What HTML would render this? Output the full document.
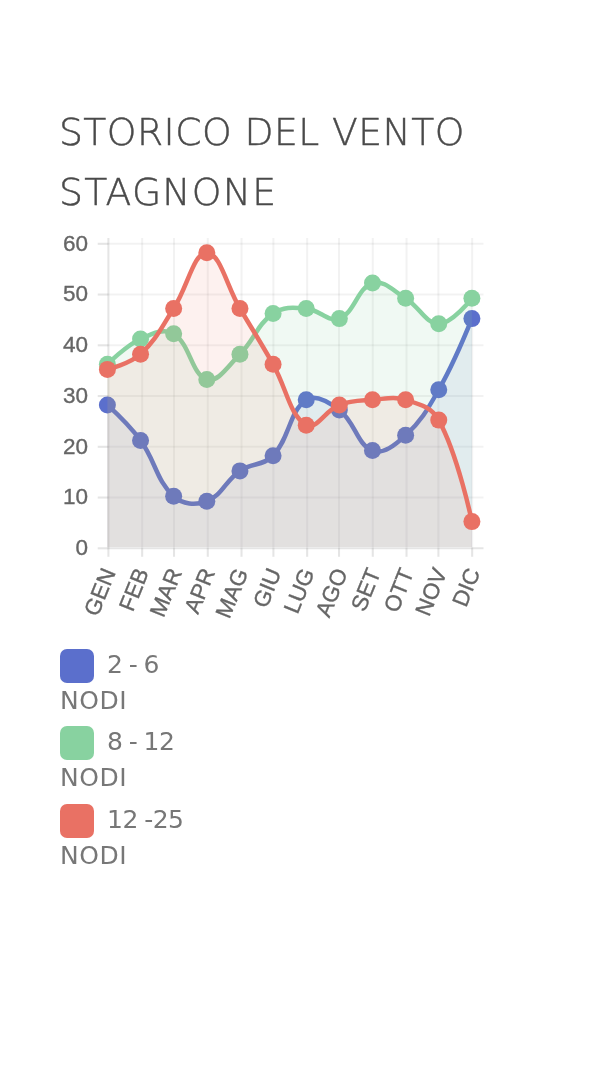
<!DOCTYPE html>
<html lang="it"><head><meta charset="utf-8"><title>Storico del vento</title>
<style>
html,body{margin:0;padding:0;background:#fff;}
body{width:600px;height:1067px;position:relative;overflow:hidden;font-family:"DejaVu Sans","Liberation Sans",sans-serif;}
.ttl{position:absolute;left:59px;white-space:nowrap;font-family:"DejaVu Sans Light","DejaVu Sans","Liberation Sans",sans-serif;font-weight:200;font-size:37.7px;line-height:44px;color:#4a4a4a;letter-spacing:0.45px;margin:0;-webkit-text-stroke:0.45px #4a4a4a}
h1{margin:0;padding:0;font-size:0;line-height:0}
.ttl{display:block}
.ax{font-family:"Liberation Sans",sans-serif;font-size:22.5px;fill:#666;stroke:#666;stroke-width:0.35px}
.sw{position:absolute;left:60px;width:34px;height:34px;border-radius:7px}
.lg{position:absolute;white-space:nowrap;font-family:"DejaVu Sans","Liberation Sans",sans-serif;font-size:25px;line-height:30px;color:#777}
.num{left:107px;letter-spacing:-0.5px;word-spacing:-1.1px}
.nodi{left:60.1px;letter-spacing:0.55px}
</style></head><body>
<h1><span class="ttl" style="top:110px">STORICO DEL VENTO</span> <span class="ttl" style="top:170px;letter-spacing:1.25px">STAGNONE</span></h1>
<svg width="600" height="1067" viewBox="0 0 600 1067" style="position:absolute;left:0;top:0">
<line x1="108.40" y1="548.30" x2="483.50" y2="548.30" stroke="rgba(0,0,0,0.10)" stroke-width="2.1"/>
<line x1="97.70" y1="548.30" x2="108.40" y2="548.30" stroke="rgba(0,0,0,0.10)" stroke-width="2.1"/>
<line x1="108.40" y1="497.55" x2="483.50" y2="497.55" stroke="rgba(0,0,0,0.05)" stroke-width="2.1"/>
<line x1="97.70" y1="497.55" x2="108.40" y2="497.55" stroke="rgba(0,0,0,0.10)" stroke-width="2.1"/>
<line x1="108.40" y1="446.80" x2="483.50" y2="446.80" stroke="rgba(0,0,0,0.05)" stroke-width="2.1"/>
<line x1="97.70" y1="446.80" x2="108.40" y2="446.80" stroke="rgba(0,0,0,0.10)" stroke-width="2.1"/>
<line x1="108.40" y1="396.05" x2="483.50" y2="396.05" stroke="rgba(0,0,0,0.05)" stroke-width="2.1"/>
<line x1="97.70" y1="396.05" x2="108.40" y2="396.05" stroke="rgba(0,0,0,0.10)" stroke-width="2.1"/>
<line x1="108.40" y1="345.30" x2="483.50" y2="345.30" stroke="rgba(0,0,0,0.05)" stroke-width="2.1"/>
<line x1="97.70" y1="345.30" x2="108.40" y2="345.30" stroke="rgba(0,0,0,0.10)" stroke-width="2.1"/>
<line x1="108.40" y1="294.55" x2="483.50" y2="294.55" stroke="rgba(0,0,0,0.05)" stroke-width="2.1"/>
<line x1="97.70" y1="294.55" x2="108.40" y2="294.55" stroke="rgba(0,0,0,0.10)" stroke-width="2.1"/>
<line x1="108.40" y1="243.80" x2="483.50" y2="243.80" stroke="rgba(0,0,0,0.05)" stroke-width="2.1"/>
<line x1="97.70" y1="243.80" x2="108.40" y2="243.80" stroke="rgba(0,0,0,0.10)" stroke-width="2.1"/>
<line x1="108.40" y1="238.00" x2="108.40" y2="548.30" stroke="rgba(0,0,0,0.10)" stroke-width="2.1"/>
<line x1="108.40" y1="548.30" x2="108.40" y2="556.80" stroke="rgba(0,0,0,0.10)" stroke-width="2.1"/>
<line x1="142.15" y1="238.00" x2="142.15" y2="548.30" stroke="rgba(0,0,0,0.05)" stroke-width="2.1"/>
<line x1="142.15" y1="548.30" x2="142.15" y2="556.80" stroke="rgba(0,0,0,0.10)" stroke-width="2.1"/>
<line x1="174.02" y1="238.00" x2="174.02" y2="548.30" stroke="rgba(0,0,0,0.05)" stroke-width="2.1"/>
<line x1="174.02" y1="548.30" x2="174.02" y2="556.80" stroke="rgba(0,0,0,0.10)" stroke-width="2.1"/>
<line x1="207.77" y1="238.00" x2="207.77" y2="548.30" stroke="rgba(0,0,0,0.05)" stroke-width="2.1"/>
<line x1="207.77" y1="548.30" x2="207.77" y2="556.80" stroke="rgba(0,0,0,0.10)" stroke-width="2.1"/>
<line x1="241.52" y1="238.00" x2="241.52" y2="548.30" stroke="rgba(0,0,0,0.05)" stroke-width="2.1"/>
<line x1="241.52" y1="548.30" x2="241.52" y2="556.80" stroke="rgba(0,0,0,0.10)" stroke-width="2.1"/>
<line x1="273.40" y1="238.00" x2="273.40" y2="548.30" stroke="rgba(0,0,0,0.05)" stroke-width="2.1"/>
<line x1="273.40" y1="548.30" x2="273.40" y2="556.80" stroke="rgba(0,0,0,0.10)" stroke-width="2.1"/>
<line x1="307.15" y1="238.00" x2="307.15" y2="548.30" stroke="rgba(0,0,0,0.05)" stroke-width="2.1"/>
<line x1="307.15" y1="548.30" x2="307.15" y2="556.80" stroke="rgba(0,0,0,0.10)" stroke-width="2.1"/>
<line x1="339.02" y1="238.00" x2="339.02" y2="548.30" stroke="rgba(0,0,0,0.05)" stroke-width="2.1"/>
<line x1="339.02" y1="548.30" x2="339.02" y2="556.80" stroke="rgba(0,0,0,0.10)" stroke-width="2.1"/>
<line x1="372.77" y1="238.00" x2="372.77" y2="548.30" stroke="rgba(0,0,0,0.05)" stroke-width="2.1"/>
<line x1="372.77" y1="548.30" x2="372.77" y2="556.80" stroke="rgba(0,0,0,0.10)" stroke-width="2.1"/>
<line x1="406.52" y1="238.00" x2="406.52" y2="548.30" stroke="rgba(0,0,0,0.05)" stroke-width="2.1"/>
<line x1="406.52" y1="548.30" x2="406.52" y2="556.80" stroke="rgba(0,0,0,0.10)" stroke-width="2.1"/>
<line x1="438.40" y1="238.00" x2="438.40" y2="548.30" stroke="rgba(0,0,0,0.05)" stroke-width="2.1"/>
<line x1="438.40" y1="548.30" x2="438.40" y2="556.80" stroke="rgba(0,0,0,0.10)" stroke-width="2.1"/>
<line x1="472.15" y1="238.00" x2="472.15" y2="548.30" stroke="rgba(0,0,0,0.05)" stroke-width="2.1"/>
<line x1="472.15" y1="548.30" x2="472.15" y2="556.80" stroke="rgba(0,0,0,0.10)" stroke-width="2.1"/>
<text x="88" y="548.30" text-anchor="end" class="ax" dy="0.3em">0</text>
<text x="88" y="497.55" text-anchor="end" class="ax" dy="0.3em">10</text>
<text x="88" y="446.80" text-anchor="end" class="ax" dy="0.3em">20</text>
<text x="88" y="396.05" text-anchor="end" class="ax" dy="0.3em">30</text>
<text x="88" y="345.30" text-anchor="end" class="ax" dy="0.3em">40</text>
<text x="88" y="294.55" text-anchor="end" class="ax" dy="0.3em">50</text>
<text x="88" y="243.80" text-anchor="end" class="ax" dy="0.3em">60</text>
<text transform="translate(108.60 569.20) rotate(-68)" text-anchor="end" class="ax" dy="0.355em">GEN</text>
<text transform="translate(141.74 569.20) rotate(-68)" text-anchor="end" class="ax" dy="0.355em">FEB</text>
<text transform="translate(174.87 569.20) rotate(-68)" text-anchor="end" class="ax" dy="0.355em">MAR</text>
<text transform="translate(208.01 569.20) rotate(-68)" text-anchor="end" class="ax" dy="0.355em">APR</text>
<text transform="translate(241.15 569.20) rotate(-68)" text-anchor="end" class="ax" dy="0.355em">MAG</text>
<text transform="translate(274.28 569.20) rotate(-68)" text-anchor="end" class="ax" dy="0.355em">GIU</text>
<text transform="translate(307.42 569.20) rotate(-68)" text-anchor="end" class="ax" dy="0.355em">LUG</text>
<text transform="translate(340.55 569.20) rotate(-68)" text-anchor="end" class="ax" dy="0.355em">AGO</text>
<text transform="translate(373.69 569.20) rotate(-68)" text-anchor="end" class="ax" dy="0.355em">SET</text>
<text transform="translate(406.83 569.20) rotate(-68)" text-anchor="end" class="ax" dy="0.355em">OTT</text>
<text transform="translate(439.96 569.20) rotate(-68)" text-anchor="end" class="ax" dy="0.355em">NOV</text>
<text transform="translate(473.10 569.20) rotate(-68)" text-anchor="end" class="ax" dy="0.355em">DIC</text>
<path d="M107.40 404.90 C107.40 404.90 129.19 424.79 140.54 440.43 C155.70 461.33 156.19 480.19 173.67 496.25 C182.70 504.55 195.49 505.66 206.81 501.32 C222.00 495.51 225.30 480.97 239.95 470.88 C251.81 462.70 263.55 465.87 273.08 455.65 C290.06 437.45 288.94 411.74 306.22 399.83 C315.44 393.47 328.80 401.89 339.35 409.98 C355.31 422.19 356.86 444.59 372.49 450.58 C383.37 454.74 395.22 444.91 405.63 435.35 C421.73 420.55 427.67 409.22 438.76 389.68 C454.18 362.53 471.90 318.62 471.90 318.62 L471.90 547.00 L107.40 547.00 Z" fill="rgba(91,111,204,0.10)" stroke="none"/>
<path d="M107.40 404.90 C107.40 404.90 129.19 424.79 140.54 440.43 C155.70 461.33 156.19 480.19 173.67 496.25 C182.70 504.55 195.49 505.66 206.81 501.32 C222.00 495.51 225.30 480.97 239.95 470.88 C251.81 462.70 263.55 465.87 273.08 455.65 C290.06 437.45 288.94 411.74 306.22 399.83 C315.44 393.47 328.80 401.89 339.35 409.98 C355.31 422.19 356.86 444.59 372.49 450.58 C383.37 454.74 395.22 444.91 405.63 435.35 C421.73 420.55 427.67 409.22 438.76 389.68 C454.18 362.53 471.90 318.62 471.90 318.62" fill="none" stroke="#5b6fcc" stroke-width="4.5" stroke-linejoin="round"/>
<circle cx="107.40" cy="404.90" r="8.5" fill="#5b6fcc"/>
<circle cx="140.54" cy="440.43" r="8.5" fill="#5b6fcc"/>
<circle cx="173.67" cy="496.25" r="8.5" fill="#5b6fcc"/>
<circle cx="206.81" cy="501.32" r="8.5" fill="#5b6fcc"/>
<circle cx="239.95" cy="470.88" r="8.5" fill="#5b6fcc"/>
<circle cx="273.08" cy="455.65" r="8.5" fill="#5b6fcc"/>
<circle cx="306.22" cy="399.83" r="8.5" fill="#5b6fcc"/>
<circle cx="339.35" cy="409.98" r="8.5" fill="#5b6fcc"/>
<circle cx="372.49" cy="450.58" r="8.5" fill="#5b6fcc"/>
<circle cx="405.63" cy="435.35" r="8.5" fill="#5b6fcc"/>
<circle cx="438.76" cy="389.68" r="8.5" fill="#5b6fcc"/>
<circle cx="471.90" cy="318.62" r="8.5" fill="#5b6fcc"/>
<path d="M107.40 364.30 C107.40 364.30 125.84 345.68 140.54 338.93 C152.34 333.50 163.79 327.80 173.67 333.85 C190.30 344.04 191.57 374.86 206.81 379.53 C218.08 382.98 228.19 365.85 239.95 354.15 C254.70 339.46 256.91 324.69 273.08 313.55 C283.42 306.42 293.18 307.48 306.22 308.48 C319.69 309.51 328.32 322.85 339.35 318.62 C354.83 312.70 357.35 287.74 372.49 283.10 C383.86 279.62 393.27 290.75 405.63 298.33 C419.77 306.99 425.51 323.70 438.76 323.70 C452.02 323.70 471.90 298.33 471.90 298.33 L471.90 547.00 L107.40 547.00 Z" fill="rgba(136,210,160,0.125)" stroke="none"/>
<path d="M107.40 364.30 C107.40 364.30 125.84 345.68 140.54 338.93 C152.34 333.50 163.79 327.80 173.67 333.85 C190.30 344.04 191.57 374.86 206.81 379.53 C218.08 382.98 228.19 365.85 239.95 354.15 C254.70 339.46 256.91 324.69 273.08 313.55 C283.42 306.42 293.18 307.48 306.22 308.48 C319.69 309.51 328.32 322.85 339.35 318.62 C354.83 312.70 357.35 287.74 372.49 283.10 C383.86 279.62 393.27 290.75 405.63 298.33 C419.77 306.99 425.51 323.70 438.76 323.70 C452.02 323.70 471.90 298.33 471.90 298.33" fill="none" stroke="#88d2a0" stroke-width="4.5" stroke-linejoin="round"/>
<circle cx="107.40" cy="364.30" r="8.5" fill="#88d2a0"/>
<circle cx="140.54" cy="338.93" r="8.5" fill="#88d2a0"/>
<circle cx="173.67" cy="333.85" r="8.5" fill="#88d2a0"/>
<circle cx="206.81" cy="379.53" r="8.5" fill="#88d2a0"/>
<circle cx="239.95" cy="354.15" r="8.5" fill="#88d2a0"/>
<circle cx="273.08" cy="313.55" r="8.5" fill="#88d2a0"/>
<circle cx="306.22" cy="308.48" r="8.5" fill="#88d2a0"/>
<circle cx="339.35" cy="318.62" r="8.5" fill="#88d2a0"/>
<circle cx="372.49" cy="283.10" r="8.5" fill="#88d2a0"/>
<circle cx="405.63" cy="298.33" r="8.5" fill="#88d2a0"/>
<circle cx="438.76" cy="323.70" r="8.5" fill="#88d2a0"/>
<circle cx="471.90" cy="298.33" r="8.5" fill="#88d2a0"/>
<path d="M107.40 369.38 C107.40 369.38 130.13 363.71 140.54 354.15 C156.64 339.35 161.35 327.35 173.67 308.48 C187.85 286.75 193.55 252.65 206.81 252.65 C220.06 252.65 226.69 286.15 239.95 308.48 C253.20 330.81 260.26 341.72 273.08 364.30 C286.77 388.41 289.23 414.79 306.22 425.20 C315.74 431.03 325.12 410.35 339.35 404.90 C351.63 400.20 359.16 400.85 372.49 399.83 C385.67 398.82 393.43 396.09 405.63 399.83 C419.94 404.21 431.69 407.12 438.76 420.12 C458.20 455.84 471.90 521.62 471.90 521.62 L471.90 547.00 L107.40 547.00 Z" fill="rgba(233,113,100,0.10)" stroke="none"/>
<path d="M107.40 369.38 C107.40 369.38 130.13 363.71 140.54 354.15 C156.64 339.35 161.35 327.35 173.67 308.48 C187.85 286.75 193.55 252.65 206.81 252.65 C220.06 252.65 226.69 286.15 239.95 308.48 C253.20 330.81 260.26 341.72 273.08 364.30 C286.77 388.41 289.23 414.79 306.22 425.20 C315.74 431.03 325.12 410.35 339.35 404.90 C351.63 400.20 359.16 400.85 372.49 399.83 C385.67 398.82 393.43 396.09 405.63 399.83 C419.94 404.21 431.69 407.12 438.76 420.12 C458.20 455.84 471.90 521.62 471.90 521.62" fill="none" stroke="#e97164" stroke-width="4.5" stroke-linejoin="round"/>
<circle cx="107.40" cy="369.38" r="8.5" fill="#e97164"/>
<circle cx="140.54" cy="354.15" r="8.5" fill="#e97164"/>
<circle cx="173.67" cy="308.48" r="8.5" fill="#e97164"/>
<circle cx="206.81" cy="252.65" r="8.5" fill="#e97164"/>
<circle cx="239.95" cy="308.48" r="8.5" fill="#e97164"/>
<circle cx="273.08" cy="364.30" r="8.5" fill="#e97164"/>
<circle cx="306.22" cy="425.20" r="8.5" fill="#e97164"/>
<circle cx="339.35" cy="404.90" r="8.5" fill="#e97164"/>
<circle cx="372.49" cy="399.83" r="8.5" fill="#e97164"/>
<circle cx="405.63" cy="399.83" r="8.5" fill="#e97164"/>
<circle cx="438.76" cy="420.12" r="8.5" fill="#e97164"/>
<circle cx="471.90" cy="521.62" r="8.5" fill="#e97164"/>
</svg>
<div class="sw" style="top:649px;background:#5b6fcc"></div>
<div class="lg num" style="top:649.5px">2 - 6</div>
<div class="lg nodi" style="top:685.5px">NODI</div>
<div class="sw" style="top:726px;background:#88d2a0"></div>
<div class="lg num" style="top:726.5px">8 - 12</div>
<div class="lg nodi" style="top:762.5px">NODI</div>
<div class="sw" style="top:804px;background:#e97164"></div>
<div class="lg num" style="top:804.5px">12 -25</div>
<div class="lg nodi" style="top:840.5px">NODI</div>
</body></html>
